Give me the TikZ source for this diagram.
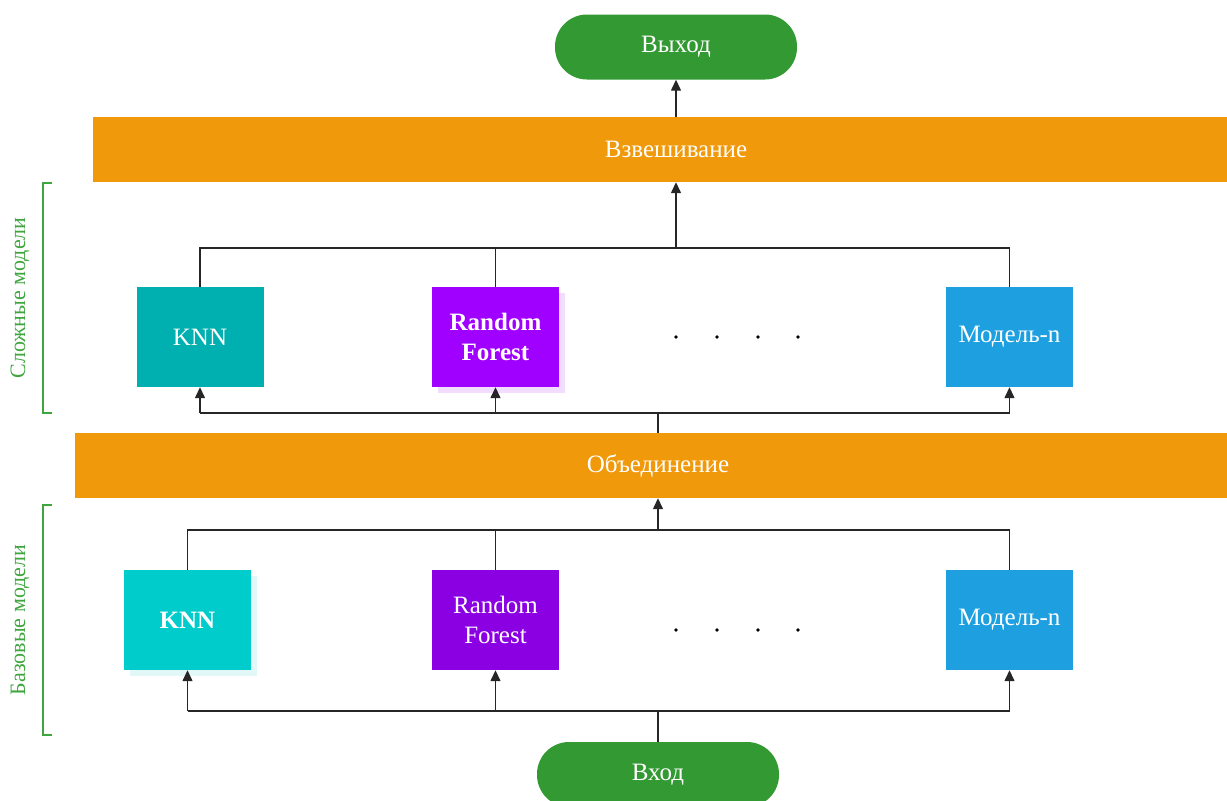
\documentclass[tikz,border=0pt]{standalone}
\usepackage{fontspec}
\setmainfont{Liberation Serif}
\usetikzlibrary{arrows.meta}
\definecolor{pillgreen}{HTML}{339933}
\definecolor{barorange}{HTML}{F0990A}
\definecolor{tealU}{HTML}{00B0B0}
\definecolor{purpU}{HTML}{A000FF}
\definecolor{blueM}{HTML}{1EA0E0}
\definecolor{cyanL}{HTML}{00CCCC}
\definecolor{purpL}{HTML}{8B00E3}
\definecolor{brgreen}{HTML}{3FA63F}
\definecolor{shPurp}{HTML}{F2DDFF}
\definecolor{shCyan}{HTML}{E2F8F8}
\begin{document}
\begin{tikzpicture}[x=1pt,y=-1pt,
  txt/.style={text=white,font=\fontsize{25}{30}\selectfont,align=center},
  pill/.style={txt,fill=pillgreen,rounded corners=32pt,minimum width=242pt,minimum height=65pt,inner sep=0pt},
  bar/.style={txt,fill=barorange,minimum height=65pt,inner sep=0pt},
  model/.style={txt,minimum width=127pt,minimum height=100pt,inner sep=0pt},
  conn/.style={line width=1.4pt,black!85},
  arr/.style={conn,-{Triangle[length=11pt,width=10pt]}},
  bracket/.style={brgreen,line width=1.5pt},
  side/.style={text=brgreen,font=\fontsize{22}{24}\selectfont,rotate=90}]
\useasboundingbox (0,0) rectangle (1227,801);
% nodes (bars extend past the right page edge, which crops them)
\node[pill] (out) at (676,47) {Выход};
\node[bar,minimum width=1166pt] (W) at (676,149.5) {Взвешивание};
\node[bar,minimum width=1166pt] (O) at (658,465.5) {Объединение};
\node[pill] (in) at (658,774.5) {Вход};
% shadows
\fill[shPurp] (438,293) rectangle (565,393);
\fill[shCyan] (130,576) rectangle (257,676);
% upper models
\node[model,fill=tealU] (kU) at (200,337) {KNN};
\node[model,fill=purpU] (rU) at (495.5,337) {\textbf{Random}\\\textbf{Forest}};
\node[model,fill=blueM] (mU) at (1009.5,337) {Модель-n};
% lower models
\node[model,fill=cyanL] (kL) at (187.5,620) {\textbf{KNN}};
\node[model,fill=purpL] (rL) at (495.5,620) {Random\\Forest};
\node[model,fill=blueM] (mL) at (1009.5,620) {Модель-n};
% dots
\foreach \xx in {676,717,758,798}{
  \fill (\xx,337) circle (1.8pt);
  \fill (\xx,630) circle (1.8pt);
}
% coordinates
\coordinate (tc) at (676,248);
\coordinate (mc) at (658,413);
\coordinate (lc) at (658,530);
\coordinate (bc) at (658,711);
% top connectors
\draw[arr] (W.north -| out.south) -- (out.south);
\draw[conn] (kU.north) -- (kU.north |- tc) -- (mU.north |- tc) -- (mU.north);
\draw[conn] (rU.north) -- (rU.north |- tc);
\draw[arr] (tc) -- (tc |- W.south);
% middle
\draw[conn] (O.north -| mc) -- (mc);
\draw[conn] (kU.south |- mc) -- (mU.south |- mc);
\draw[arr] (kU.south |- mc) -- (kU.south);
\draw[arr] (rU.south |- mc) -- (rU.south);
\draw[arr] (mU.south |- mc) -- (mU.south);
% lower
\draw[conn] (kL.north) -- (kL.north |- lc) -- (mL.north |- lc) -- (mL.north);
\draw[conn] (rL.north) -- (rL.north |- lc);
\draw[arr] (lc) -- (lc |- O.south);
% bottom
\draw[conn] (in.north -| bc) -- (bc);
\draw[conn] (kL.south |- bc) -- (mL.south |- bc);
\draw[arr] (kL.south |- bc) -- (kL.south);
\draw[arr] (rL.south |- bc) -- (rL.south);
\draw[arr] (mL.south |- bc) -- (mL.south);
% brackets
\draw[bracket] (52,183) -- (43,183) -- (43,413) -- (52,413);
\draw[bracket] (52,505) -- (43,505) -- (43,735) -- (52,735);
\node[side] (s1) at (20,298) {Сложные модели};
\node[side] (s2) at (20,620) {Базовые модели};
\end{tikzpicture}
\end{document}
